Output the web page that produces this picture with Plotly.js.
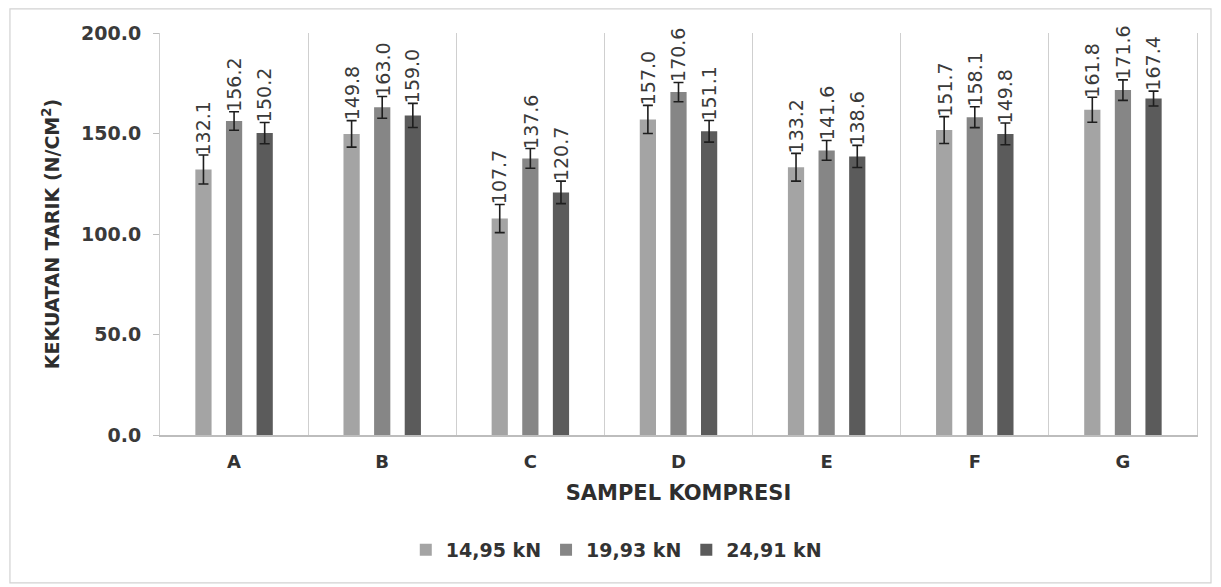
<!DOCTYPE html>
<html>
<head>
<meta charset="utf-8">
<script src="https://cdn.plot.ly/plotly-3.0.1.min.js"></script>
<style>
html,body{margin:0;padding:0;background:#fff;}
#chart{width:1221px;height:587px;}
</style>
</head>
<body>
<div id="chart"></div>
<script>
// ---- data ----
var categories = ['A', 'B', 'C', 'D', 'E', 'F', 'G'];
var seriesNames = ['14,95 kN', '19,93 kN', '24,91 kN'];
var values1495 = [132.1, 149.8, 107.7, 157.0, 133.2, 151.7, 161.8];
var values1993 = [156.2, 163.0, 137.6, 170.6, 141.6, 158.1, 171.6];
var values2491 = [150.2, 159.0, 120.7, 151.1, 138.6, 149.8, 167.4];
var errors1495 = [7.2, 6.6, 7.0, 7.0, 6.9, 6.7, 6.2];
var errors1993 = [4.6, 5.4, 4.9, 4.8, 4.9, 5.2, 5.1];
var errors2491 = [5.3, 6.0, 5.6, 5.4, 5.5, 5.4, 3.7];
var yTickVals = [0, 50, 100, 150, 200];
var yTickText = ['0.0', '50.0', '100.0', '150.0', '200.0'];

var seriesValues = [values1495, values1993, values2491];
var seriesErrors = [errors1495, errors1993, errors2491];
var colors = ['#a4a4a4', '#868686', '#5b5b5b'];
var bargap = 0.38;

var traces = seriesValues.map(function (vals, s) {
  return {
    type: 'bar',
    name: seriesNames[s],
    x: categories,
    y: vals,
    marker: {color: colors[s], line: {width: 0}},
    error_y: {type: 'data', array: seriesErrors[s], visible: true,
              color: '#1e1e1e', thickness: 1.6, width: 5},
    hoverinfo: 'x+y'
  };
});

// value labels rotated above the error bars
var annotations = [];
seriesValues.forEach(function (vals, s) {
  vals.forEach(function (v, i) {
    annotations.push({
      x: i + (s - 1) * (1 - bargap) / 3,
      y: v + seriesErrors[s][i],
      xref: 'x', yref: 'y',
      text: v.toFixed(1),
      textangle: -90,
      showarrow: false,
      xanchor: 'center', yanchor: 'bottom',
      yshift: -2,
      font: {family: 'DejaVu Sans, Arial, sans-serif', size: 19, color: '#3a3a3a'}
    });
  });
});

var layout = {
  width: 1221, height: 587,
  margin: {l: 160, r: 24, t: 33, b: 152},
  paper_bgcolor: '#ffffff',
  plot_bgcolor: '#ffffff',
  barmode: 'group',
  bargap: bargap,
  bargroupgap: 0.47,
  showlegend: true,
  legend: {
    orientation: 'h',
    x: 0.44, xanchor: 'center',
    y: -0.286, yanchor: 'middle',
    font: {family: 'DejaVu Sans, Arial, sans-serif', size: 19, color: '#333333', weight: 'bold'},
    itemwidth: 30,
    traceorder: 'normal'
  },
  xaxis: {
    type: 'category',
    tickson: 'boundaries',
    showgrid: true,
    gridcolor: '#cfcfcf',
    gridwidth: 1,
    showline: true,
    linecolor: '#bdbdbd',
    linewidth: 1.5,
    ticks: '',
    ticklabelstandoff: 10,
    tickfont: {family: 'DejaVu Sans, Arial, sans-serif', size: 18, color: '#333333', weight: 'bold'},
    title: {
      text: 'SAMPEL KOMPRESI',
      standoff: 14,
      font: {family: 'DejaVu Sans, Arial, sans-serif', size: 21, color: '#2e2e2e', weight: 'bold'}
    },
    zeroline: false,
    fixedrange: true
  },
  yaxis: {
    range: [0, 200],
    tickvals: yTickVals,
    ticktext: yTickText,
    showgrid: false,
    showline: true,
    linecolor: '#cfcfcf',
    linewidth: 1,
    mirror: true,
    ticks: 'outside',
    ticklen: 6,
    tickcolor: '#bdbdbd',
    ticklabelstandoff: 8,
    tickfont: {family: 'DejaVu Sans, Arial, sans-serif', size: 19, color: '#3a3a3a', weight: 'bold'},
    title: {
      text: 'KEKUATAN TARIK (N/CM<sup>2</sup>)',
      standoff: 16,
      font: {family: 'DejaVu Sans, Arial, sans-serif', size: 19, color: '#2e2e2e', weight: 'bold'}
    },
    zeroline: false,
    fixedrange: true
  },
  annotations: annotations,
  shapes: [{
    type: 'rect', xref: 'paper', yref: 'paper',
    x0: -0.1447, x1: 1.0135, y0: -0.368, y1: 1.060,
    line: {color: '#d2d2d2', width: 1.2},
    fillcolor: 'rgba(0,0,0,0)',
    layer: 'below'
  }]
};

Plotly.newPlot('chart', traces, layout, {displayModeBar: false, staticPlot: true});
</script>
</body>
</html>
